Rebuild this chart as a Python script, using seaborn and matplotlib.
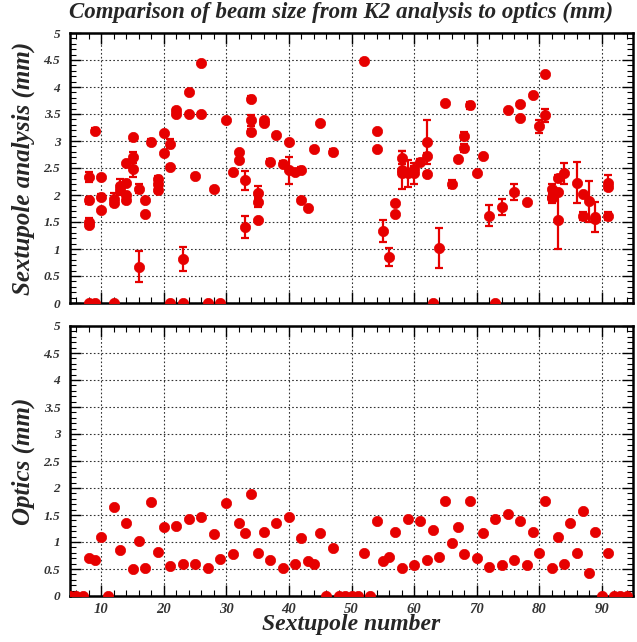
import matplotlib
matplotlib.use("Agg")
import matplotlib.pyplot as plt
import numpy as np
import pandas as pd
import seaborn as sns
from matplotlib.ticker import MultipleLocator

# ---------------- data ----------------
top_x = [8, 8, 8, 8, 9, 10, 10, 10, 12, 12, 13, 13, 14, 14, 14, 14,
         15, 15, 15, 16, 16, 17, 17, 18, 19, 19, 19, 20, 20, 21, 21,
         22, 22, 23, 24, 24, 25, 26, 26, 28, 30, 31, 32, 32, 33, 33,
         34, 34, 34, 35, 35, 35, 36, 36, 37, 38, 39, 40, 40, 41, 42, 42,
         43, 44, 45, 47, 52, 54, 54, 55, 56, 57, 57, 58, 58, 58, 59,
         60, 60, 61, 62, 62, 62, 64, 65, 66, 67, 68, 68, 69, 70, 71, 72,
         74, 75, 76, 77, 77, 78, 79, 80, 81, 81, 82, 82, 82, 83, 83, 83,
         84, 86, 87, 87, 88, 89, 89, 91, 91, 91]
top_y = [2.33, 1.90, 1.50, 1.45, 3.19, 2.34, 1.96, 1.72, 1.93, 1.85, 2.17, 2.10, 2.23, 2.00, 1.90, 2.59,
         3.07, 2.70, 2.49, 2.12, 0.67, 1.90, 1.64, 2.98, 2.30, 2.21, 2.09, 3.14, 2.77, 2.95, 2.52,
         3.58, 3.50, 0.82, 3.91, 3.50, 2.36, 4.44, 3.50, 2.12, 3.38, 2.43, 2.80, 2.64, 2.27, 1.41,
         3.78, 3.38, 3.17, 2.04, 1.87, 1.53, 3.38, 3.33, 2.62, 3.12, 2.58, 2.99, 2.46, 2.43, 2.46, 1.90,
         1.76, 2.86, 3.33, 2.80, 4.48, 3.19, 2.85, 1.33, 0.85, 1.85, 1.64, 2.69, 2.46, 2.40, 2.40,
         2.40, 2.49, 2.61, 2.98, 2.72, 2.38, 1.02, 3.70, 2.20, 2.67, 3.09, 2.87, 3.66, 2.41, 2.73, 1.62,
         1.78, 3.58, 2.06, 3.69, 3.43, 1.87, 3.85, 3.27, 3.48, 4.24, 1.96, 2.11, 1.95, 1.53, 2.32, 2.05,
         2.40, 2.23, 2.01, 1.61, 1.88, 1.59, 1.55, 2.23, 2.15, 1.61]
top_err = [0.09, 0.07, 0.08, 0.06, 0.05, 0.03, 0.06, 0.03, 0.10, 0.06, 0.12, 0.10, 0.05, 0.05, 0.04, 0.03,
           0.03, 0.10, 0.15, 0.08, 0.29, 0.03, 0.03, 0.06, 0.05, 0.05, 0.05, 0.03, 0.03, 0.08, 0.03,
           0.04, 0.03, 0.22, 0.04, 0.03, 0.03, 0.02, 0.03, 0.02, 0.02, 0.02, 0.02, 0.02, 0.18, 0.20,
           0.05, 0.10, 0.05, 0.12, 0.10, 0.03, 0.03, 0.03, 0.04, 0.02, 0.05, 0.02, 0.25, 0.02, 0.06, 0.04,
           0.02, 0.02, 0.02, 0.06, 0.04, 0.02, 0.02, 0.20, 0.16, 0.02, 0.02, 0.12, 0.35, 0.05, 0.25,
           0.20, 0.05, 0.05, 0.40, 0.06, 0.05, 0.37, 0.03, 0.07, 0.03, 0.08, 0.08, 0.06, 0.02, 0.02, 0.20,
           0.15, 0.02, 0.15, 0.03, 0.03, 0.02, 0.04, 0.12, 0.12, 0.02, 0.10, 0.10, 0.05, 0.53, 0.05, 0.05,
           0.20, 0.38, 0.02, 0.07, 0.38, 0.28, 0.05, 0.14, 0.05, 0.07]
top_zero_x = [8, 9, 12, 21, 23, 27, 29, 63, 73]
top_zero_y = [0, 0, 0, 0, 0, 0, 0, 0, 0]

bot_x = [5, 6, 7, 8, 9, 10, 11, 12, 13, 14, 15, 16, 17, 18, 19, 20, 21, 22, 23, 24,
         25, 26, 27, 28, 29, 30, 31, 32, 33, 34, 35, 36, 37, 38, 39, 40, 41, 42, 43, 44,
         45, 46, 47, 48, 49, 50, 51, 52, 53, 54, 55, 56, 57, 58, 59, 60, 61, 62, 63, 64,
         65, 66, 67, 68, 69, 70, 71, 72, 73, 74, 75, 76, 77, 78, 79, 80, 81, 82, 83, 84,
         85, 86, 87, 88, 89, 90, 91, 92, 93, 94]
bot_y = [0, 0, 0, 0.70, 0.67, 1.09, 0, 1.64, 0.85, 1.35, 0.50, 1.01, 0.52, 1.75, 0.82, 1.28, 0.56, 1.29, 0.60, 1.42,
         0.59, 1.47, 0.51, 1.14, 0.68, 1.73, 0.77, 1.36, 1.16, 1.88, 0.80, 1.18, 0.67, 1.36, 0.51, 1.46, 0.59, 1.08, 0.65, 0.60,
         1.16, 0, 0.88, 0, 0, 0, 0, 0.79, 0, 1.39, 0.65, 0.73, 1.18, 0.51, 1.42, 0.57, 1.39, 0.66, 1.22, 0.73,
         1.76, 0.99, 1.27, 0.78, 1.76, 0.70, 1.16, 0.53, 1.42, 0.57, 1.52, 0.67, 1.38, 0.57, 1.18, 0.79, 1.76, 0.51, 1.10, 0.59,
         1.35, 0.80, 1.58, 0.42, 1.18, 0, 0.80, 0, 0, 0]

x_ticks = [10, 20, 30, 40, 50, 60, 70, 80, 90]
y_ticks = [0, 0.5, 1, 1.5, 2, 2.5, 3, 3.5, 4, 4.5, 5]
y_tick_labels = ["0", "0.5", "1", "1.5", "2", "2.5", "3", "3.5", "4", "4.5", "5"]

title = "Comparison of beam size from K2 analysis to optics (mm)"
top_ylabel = "Sextupole analysis (mm)"
bot_ylabel = "Optics (mm)"
xlabel = "Sextupole number"

# ---------------- style ----------------
sns.set_style("ticks")
plt.rcParams["font.family"] = ["Liberation Serif", "DejaVu Serif"]
RED = "#e60000"

top_df = pd.DataFrame({"x": top_x, "y": top_y, "err": top_err})
zero_df = pd.DataFrame({"x": top_zero_x, "y": top_zero_y})
bot_df = pd.DataFrame({"x": bot_x, "y": bot_y})

fig = plt.figure(figsize=(6.37, 6.42), dpi=100)
W, H = 637, 642
ax1 = fig.add_axes([70 / W, 1 - 303 / H, 563 / W, 270 / H])
ax2 = fig.add_axes([70 / W, 1 - 596 / H, 563 / W, 270 / H])

# top: error bars + points
ax1.errorbar(top_df["x"], top_df["y"], yerr=top_df["err"], fmt="none",
             ecolor=RED, elinewidth=1.6, capsize=3.2, capthick=1.6, zorder=3)
sns.scatterplot(data=top_df, x="x", y="y", ax=ax1, color=RED, s=55,
                edgecolor=RED, linewidth=0.5, zorder=4, legend=False)
sns.scatterplot(data=zero_df, x="x", y="y", ax=ax1, color=RED, s=55,
                edgecolor=RED, linewidth=0.5, zorder=4, legend=False)

sns.scatterplot(data=bot_df, x="x", y="y", ax=ax2, color=RED, s=55,
                edgecolor=RED, linewidth=0.5, zorder=4, legend=False)

tick_font = dict(family="Liberation Serif", style="italic", weight="bold", size=9.5)
for ax in (ax1, ax2):
    ax.set_xlim(5, 95)
    ax.set_ylim(0, 5)
    ax.set_xticks(x_ticks)
    ax.set_yticks(y_ticks)
    ax.set_yticklabels(y_tick_labels, fontdict=tick_font, color="#333333")
    ax.xaxis.set_minor_locator(MultipleLocator(2))
    ax.yaxis.set_minor_locator(MultipleLocator(0.1))
    ax.tick_params(which="both", direction="in", top=True, right=True, color="black")
    ax.tick_params(which="major", length=8, width=1.0)
    ax.tick_params(which="minor", length=4, width=0.8)
    ax.tick_params(axis="y", pad=7)
    ax.grid(True, which="major", linestyle=(0, (1.5, 2)), color="black", linewidth=0.8, alpha=0.8)
    for sp in ax.spines.values():
        sp.set_linewidth(1.8)
        sp.set_color("black")
    ax.set_axisbelow(True)

ax1.set_xticklabels([])
ax1.set_xlabel("")
ax2.set_xticklabels([str(t) for t in x_ticks], fontdict=dict(tick_font, size=10.5), color="#333333")
ax2.tick_params(axis="x", pad=5)

label_font = dict(family="Liberation Serif", style="italic", weight="bold")
ax1.set_ylabel(top_ylabel, fontsize=18, **label_font)
ax2.set_ylabel(bot_ylabel, fontsize=18, **label_font)
ax2.set_xlabel(xlabel, fontsize=17, **label_font)
ax1.yaxis.set_label_coords(-0.062, 0.5)
ax2.yaxis.set_label_coords(-0.062, 0.5)
ax2.xaxis.set_label_coords(0.5, -0.068)

fig.text(0.535, 1 - 12 / H, title, ha="center", va="center", fontsize=16.5, **label_font)

fig.savefig("out.png", dpi=100, facecolor="white")
